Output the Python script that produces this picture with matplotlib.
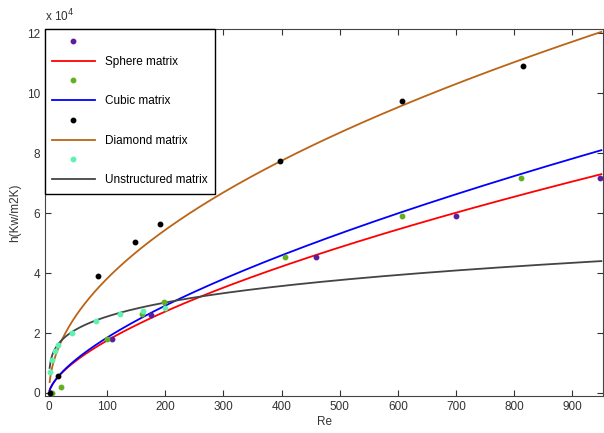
"""
Heat transfer coefficient vs Reynolds number for four matrix types
"""

import numpy as np
import matplotlib.pyplot as plt
from matplotlib.lines import Line2D

# measured points (Re, h in W/m2K)
sphere_re = [3, 108, 175, 460, 700, 947]
sphere_h = [0, 18000, 26000, 45500, 59000, 71600]

cubic_re = [5, 20, 100, 160, 197, 405, 607, 812]
cubic_h = [0, 2000, 18000, 26500, 30500, 45500, 59000, 71600]

diamond_re = [2, 15, 85, 147, 190, 398, 607, 815]
diamond_h = [0, 5500, 39000, 50500, 56500, 77500, 97500, 109000]

unstr_re = [2, 5, 10, 15, 40, 80, 122, 162, 200]
unstr_h = [7000, 11000, 14000, 16000, 20000, 24000, 26500, 27500, 28500]

# power-law fits h = a * Re^b (coefficients)
fit_sphere = (73000 / 950 ** 0.634, 0.634)
fit_cubic = (81000 / 950 ** 0.656, 0.656)
fit_diamond = (77500 / 400 ** 0.51, 0.51)
fit_unstr = (44000 / 950 ** 0.242, 0.242)

labels = ["Sphere matrix", "Cubic matrix", "Diamond matrix", "Unstructured matrix"]
dot_colors = ["#5b1f9e", "#62b01c", "black", "#5ef2b0"]
line_colors = ["red", "blue", "#bb6416", "#444444"]

plt.rcParams["font.family"] = "Liberation Sans"
plt.rcParams["font.size"] = 8.5

fig = plt.figure(figsize=(6.04, 4.33), dpi=100)
ax = fig.add_axes([0.0745, 0.0855, 0.924, 0.848])

re_fit = np.linspace(1, 950, 600)
points = [(sphere_re, sphere_h), (cubic_re, cubic_h),
          (diamond_re, diamond_h), (unstr_re, unstr_h)]
fits = [fit_sphere, fit_cubic, fit_diamond, fit_unstr]

handles, names = [], []
for (xs, ys), (a, b), dc, lc, lab in zip(points, fits, dot_colors, line_colors, labels):
    ax.plot(xs, ys, "o", color=dc, markersize=3.2, zorder=3)
    ax.plot(re_fit, a * re_fit ** b, color=lc, lw=1.3, zorder=2)
    handles.append(Line2D([], [], ls="none", marker="o", color=dc, markersize=3.2))
    names.append(" ")
    handles.append(Line2D([], [], color=lc, lw=1.3))
    names.append(lab)

ax.set_xlim(-7, 953)
ax.set_ylim(-1000, 121500)
ax.set_xticks(range(0, 1000, 100))
ax.set_yticks(range(0, 130000, 20000))
ax.set_yticklabels([str(v // 10000) for v in range(0, 130000, 20000)])
ax.tick_params(direction="in", top=True, right=True, colors="#333333",
               labelcolor="#333333", length=4)
for s in ax.spines.values():
    s.set_color("#444444")

ax.text(0.0, 1.012, r"x 10$^4$", transform=ax.transAxes, fontsize=8.5,
        color="#333333", ha="left", va="bottom")
ax.set_xlabel("Re", color="#333333", labelpad=2)
ax.set_ylabel("h(Kw/m2K)", color="#333333", labelpad=4)

leg = ax.legend(handles, names, loc="upper left", borderaxespad=0,
                handlelength=3.6, labelspacing=0.66, fancybox=False,
                framealpha=1, edgecolor="black", handletextpad=0.9,
                borderpad=0.6, fontsize=8.5)
leg.get_frame().set_linewidth(1.0)

fig.savefig("out.png", dpi=100)
